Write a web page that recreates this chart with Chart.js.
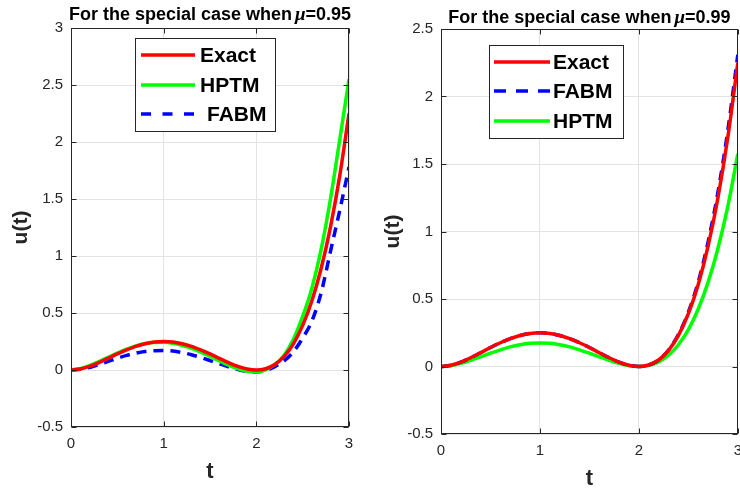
<!DOCTYPE html>
<html><head><meta charset="utf-8">
<script src="https://cdn.jsdelivr.net/npm/chart.js@4/dist/chart.umd.min.js"></script>
<style>
html,body{margin:0;padding:0;width:740px;height:494px;overflow:hidden;background:#fff;}
#c1{position:absolute;left:0;top:0;}
#c2{position:absolute;left:370px;top:0;}
</style></head><body>
<canvas id="c1" width="370" height="494"></canvas>
<canvas id="c2" width="380" height="494"></canvas>
<script>
// ---- data ----
const tValues = [0,0.1,0.2,0.3,0.4,0.5,0.6,0.7,0.8,0.9,1.0,1.1,1.2,1.3,1.4,1.5,1.6,1.7,1.8,1.9,2.0,2.1,2.2,2.3,2.4,2.5,2.6,2.7,2.8,2.9,3.0];
const exactValues = [0,0.009,0.032,0.065,0.102,0.141,0.176,0.207,0.230,0.245,0.250,0.245,0.230,0.207,0.176,0.141,0.102,0.065,0.032,0.009,0,0.011,0.048,0.119,0.230,0.391,0.608,0.893,1.254,1.703,2.250];
const hptm095 = [0,0.012,0.038,0.073,0.110,0.148,0.183,0.212,0.232,0.242,0.243,0.234,0.215,0.189,0.156,0.119,0.080,0.043,0.012,-0.012,-0.018,0.002,0.050,0.130,0.270,0.470,0.720,1.060,1.500,2.020,2.550];
const fabm095 = [0,0.006,0.022,0.047,0.075,0.103,0.128,0.148,0.162,0.169,0.171,0.166,0.153,0.134,0.110,0.083,0.055,0.028,0.005,-0.013,-0.018,-0.005,0.030,0.080,0.160,0.280,0.430,0.680,1.040,1.400,1.780];
const fabm099 = [0,0.009,0.032,0.065,0.102,0.141,0.176,0.207,0.230,0.245,0.250,0.245,0.230,0.207,0.176,0.141,0.102,0.065,0.032,0.009,0,0.011,0.049,0.122,0.238,0.402,0.627,0.925,1.295,1.755,2.310];
const hptm099 = [0,0.006,0.023,0.046,0.072,0.098,0.123,0.145,0.161,0.172,0.175,0.172,0.161,0.145,0.123,0.098,0.072,0.046,0.023,0.006,0,0.008,0.034,0.083,0.161,0.273,0.426,0.625,0.878,1.190,1.575];
const xTickLabels = ['0','1','2','3'];
const yTickLabels95 = ['-0.5','0','0.5','1','1.5','2','2.5','3'];
const yTickLabels99 = ['-0.5','0','0.5','1','1.5','2','2.5'];
const titles = ['For the special case when', 'For the special case when'];
const muValues = ['=0.95', '=0.99'];

const RED = '#ff0000', GREEN = '#00ff00', BLUE = '#0000ff';
const AX = '#262626';
const SANS = "'Liberation Sans', Arial, Helvetica, sans-serif";

function pts(ys){ return tValues.map((t,i)=>({x:t,y:ys[i]})); }

function decor(opts){
  return {
    id:'decor',
    afterDraw(chart){
      const ctx = chart.ctx, a = chart.chartArea;
      const xs = chart.scales.x, ys = chart.scales.y;
      ctx.save();
      // box
      ctx.strokeStyle = AX; ctx.lineWidth = 1;
      const L = Math.round(a.left)+0.5, R = Math.round(a.right)-0.5, T = Math.round(a.top)+0.5, B = Math.round(a.bottom)-0.5;
      ctx.strokeRect(L, T, R-L, B-T);
      // inward ticks
      ctx.beginPath();
      xs.ticks.forEach(tk=>{ const x = Math.round(xs.getPixelForValue(tk.value))+0.5; ctx.moveTo(x,B); ctx.lineTo(x,B-5); ctx.moveTo(x,T); ctx.lineTo(x,T+5); });
      ys.ticks.forEach(tk=>{ const y = Math.round(ys.getPixelForValue(tk.value))+0.5; ctx.moveTo(L,y); ctx.lineTo(L+5,y); ctx.moveTo(R,y); ctx.lineTo(R-5,y); });
      ctx.stroke();
      // title
      ctx.fillStyle = '#000';
      ctx.textBaseline = 'alphabetic';
      ctx.textAlign = 'left';
      const f1 = 'bold 18px ' + SANS, f2 = 'italic bold 19px "Liberation Serif", serif';
      ctx.font = f1; const w1 = ctx.measureText(opts.title).width;
      ctx.font = f2; const w2 = ctx.measureText('\u03bc').width;
      ctx.font = f1; const w3 = ctx.measureText(opts.mu).width;
      const total = w1 + 3 + w2 + w3;
      let x0 = (a.left + a.right)/2 - total/2;
      ctx.font = f1; ctx.fillText(opts.title, x0, opts.titleY);
      ctx.font = f2; ctx.fillText('\u03bc', x0 + w1 + 3, opts.titleY);
      ctx.font = f1; ctx.fillText(opts.mu, x0 + w1 + 3 + w2, opts.titleY);
      // axis titles
      ctx.fillStyle = AX;
      ctx.textAlign = 'center'; ctx.textBaseline = 'middle';
      ctx.font = 'bold 22px ' + SANS;
      ctx.fillText('t', (a.left + a.right)/2, a.bottom + 45);
      ctx.save();
      ctx.translate(opts.ylabX, (a.top + a.bottom)/2);
      ctx.rotate(-Math.PI/2);
      ctx.font = 'bold 21px ' + SANS;
      ctx.fillText('u(t)', 0, 0);
      ctx.restore();
      // legend
      const lg = opts.legend;
      ctx.fillStyle = '#fff';
      ctx.fillRect(lg.x, lg.y, lg.w, lg.h);
      ctx.strokeStyle = AX; ctx.lineWidth = 1;
      ctx.strokeRect(lg.x+0.5, lg.y+0.5, lg.w, lg.h);
      ctx.font = 'bold 21px ' + SANS;
      ctx.textAlign = 'left'; ctx.textBaseline = 'middle';
      lg.items.forEach(it=>{
        const ds = chart.data.datasets[it.ds];
        ctx.strokeStyle = ds.borderColor; ctx.lineWidth = 3.5;
        ctx.setLineDash(ds.borderDash && ds.borderDash.length ? it.dash : []);
        ctx.beginPath(); ctx.moveTo(lg.sx1, it.y); ctx.lineTo(lg.sx2, it.y); ctx.stroke();
        ctx.setLineDash([]);
        ctx.fillStyle = '#000';
        ctx.fillText(ds.label, it.tx, it.y + 1.5);
      });
      ctx.restore();
    }
  };
}

function makeChart(id, datasets, yLabels, pad, opts){
  const yVals = yLabels.map(Number);
  return new Chart(document.getElementById(id), {
    type:'line',
    data:{ datasets },
    options:{
      responsive:false, animation:false, devicePixelRatio:1,
      layout:{ padding:pad, autoPadding:false },
      plugins:{ legend:{display:false}, title:{display:false}, tooltip:{enabled:false} },
      elements:{ point:{radius:0}, line:{tension:0.4, cubicInterpolationMode:'monotone', borderWidth:3.5} },
      scales:{
        x:{ type:'linear', min:0, max:3,
            afterFit(s){ s.height = 40; },
            afterBuildTicks(s){ s.ticks = xTickLabels.map(v=>({value:Number(v)})); },
            ticks:{ color:AX, font:{family:SANS, size:15}, padding:8,
                    callback:(v)=>xTickLabels[xTickLabels.map(Number).indexOf(v)] ?? String(v) },
            grid:{ color:'#e3e3e3', drawTicks:false }, border:{display:false} },
        y:{ type:'linear', min:yVals[0], max:yVals[yVals.length-1],
            afterFit(s){ s.width = 71; },
            afterBuildTicks(s){ s.ticks = yVals.map(v=>({value:v})); },
            ticks:{ color:AX, font:{family:SANS, size:15}, padding:8,
                    callback:(v)=>{ const i = yVals.findIndex(u=>Math.abs(u-v)<1e-9); return i>=0 ? yLabels[i] : String(v); } },
            grid:{ color:'#e3e3e3', drawTicks:false }, border:{display:false} }
      }
    },
    plugins:[decor(opts)]
  });
}

makeChart('c1', [
  {label:'Exact', data:pts(exactValues), borderColor:RED, borderWidth:3.5, fill:false},
  {label:'HPTM', data:pts(hptm095), borderColor:GREEN, borderWidth:3.5, fill:false},
  {label:'FABM', data:pts(fabm095), borderColor:BLUE, borderWidth:3.5, borderDash:[10,7], fill:false}
], yTickLabels95, {left:0, right:21, top:28, bottom:27}, {
  title:titles[0], mu:muValues[0], titleY:20, ylabX:21,
  legend:{x:135, y:38, w:140, h:93, sx1:141, sx2:195, items:[
    {ds:0, y:55, tx:200},
    {ds:1, y:85, tx:200},
    {ds:2, y:114, tx:207, dash:[10,11.5]}
  ]}
});

makeChart('c2', [
  {label:'Exact', data:pts(exactValues), borderColor:RED, borderWidth:3.5, fill:false},
  {label:'FABM', data:pts(fabm099), borderColor:BLUE, borderWidth:3.5, borderDash:[10,7], fill:false},
  {label:'HPTM', data:pts(hptm099), borderColor:GREEN, borderWidth:3.5, fill:false}
], yTickLabels99, {left:0, right:10, top:29, bottom:20}, {
  title:titles[1], mu:muValues[1], titleY:23, ylabX:23,
  legend:{x:119, y:45, w:134, h:93, sx1:124, sx2:180, items:[
    {ds:0, y:62, tx:183},
    {ds:1, y:91, tx:183, dash:[12,10]},
    {ds:2, y:121, tx:183}
  ]}
});
</script>
</body></html>
